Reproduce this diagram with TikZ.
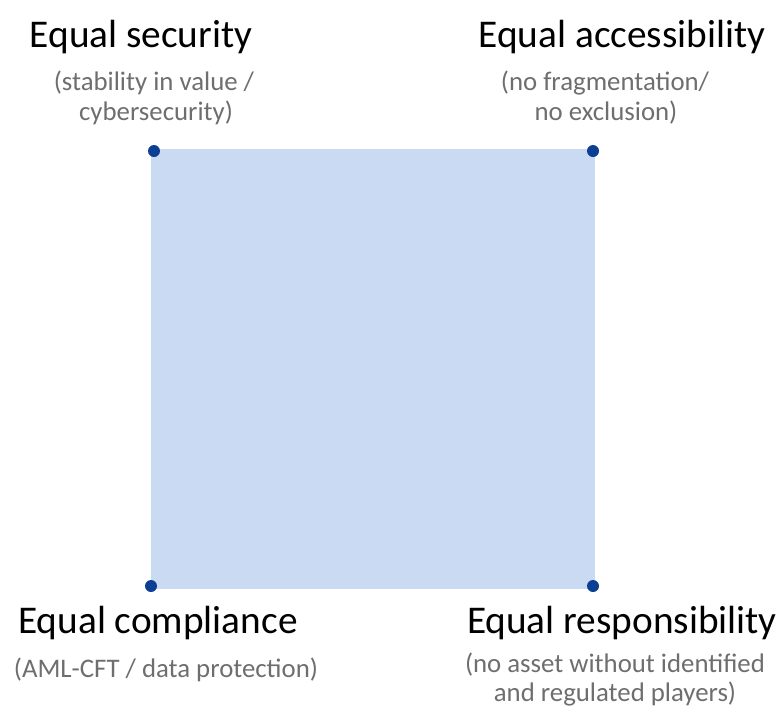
\documentclass[tikz,border=0pt]{standalone}
\usepackage{fontspec}
\setmainfont{Carlito}
\definecolor{sqfill}{HTML}{C9DAF2}
\definecolor{dotblue}{HTML}{0B3F94}
\definecolor{subgray}{HTML}{6E6E6E}
\begin{document}
\begin{tikzpicture}[x=1pt,y=-1pt,
  title/.style={anchor=base,inner sep=0pt,font=\fontsize{39.3}{46}\selectfont,text=black},
  sub/.style={anchor=base,inner sep=0pt,font=\fontsize{26.8}{30}\selectfont,text=subgray,align=center},
  corner/.style={circle,fill=dotblue,inner sep=0pt,minimum size=12pt}]
\useasboundingbox (0,0) rectangle (780,713);
\fill[sqfill] (151,149) rectangle (595,589);
\node[corner] (tl) at (154,151) {};
\node[corner] (tr) at (593,151) {};
\node[corner] (bl) at (151,586) {};
\node[corner] (br) at (593,586) {};
\node[title] (t1) at (141,47) {Equal security};
\node[sub] (s1a) at (154,90) {(stability in value /};
\node[sub] (s1b) at (156,120) {cybersecurity)};
\node[title] (t2) at (622,47) {Equal accessibility};
\node[sub] (s2a) at (605,90) {(no fragmentation/};
\node[sub] (s2b) at (606,120) {no exclusion)};
\node[title] (t3) at (158,633) {Equal compliance};
\node[sub] (s3) at (166,677) {(AML-CFT / data protection)};
\node[title] (t4) at (622,633) {Equal responsibility};
\node[sub] (s4a) at (615,672) {(no asset without identified};
\node[sub] (s4b) at (615,701) {and regulated players)};
\end{tikzpicture}
\end{document}
